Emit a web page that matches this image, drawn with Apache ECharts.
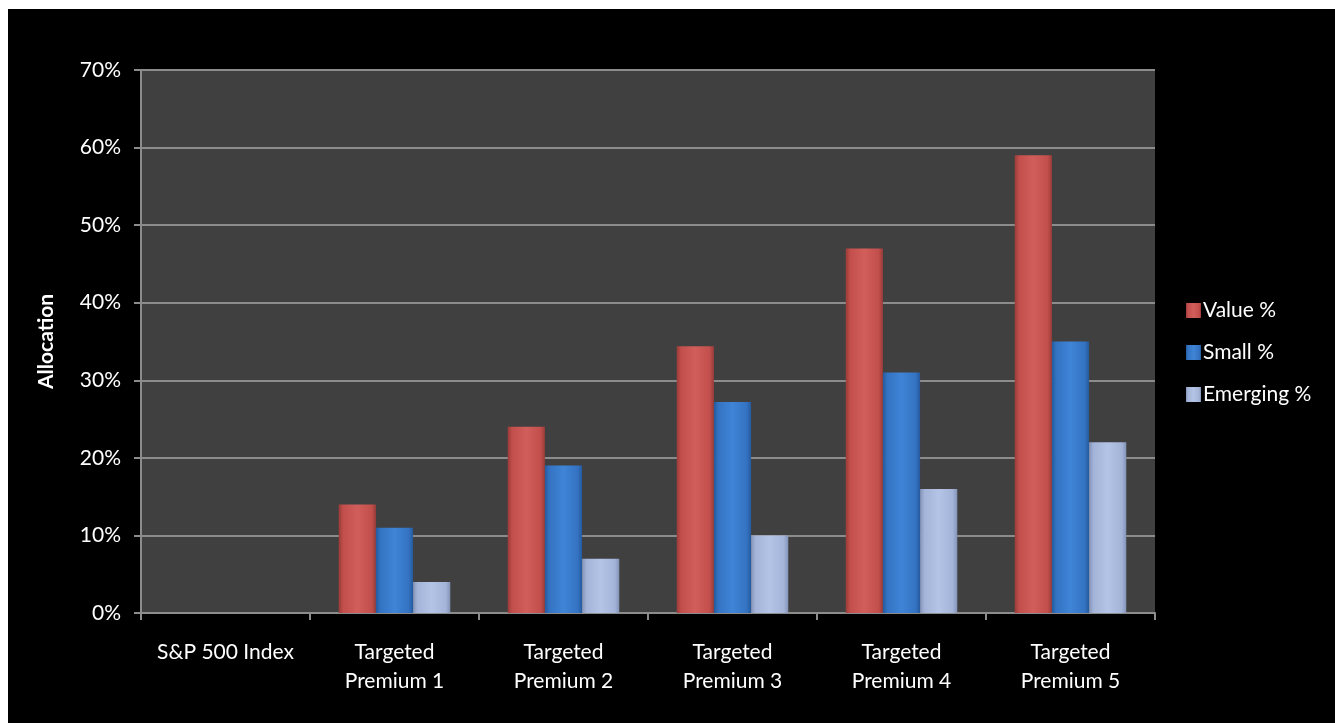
<!DOCTYPE html>
<html>
<head>
<meta charset="utf-8">
<script src="https://cdn.jsdelivr.net/npm/echarts@6/dist/echarts.min.js"></script>
<style>
html,body{margin:0;padding:0;background:#fff;}
#wrap{position:absolute;left:8px;top:9px;width:1327px;height:714px;background:#000;}
#c{position:absolute;left:-8px;top:-9px;width:1335px;height:723px;}
</style>
</head>
<body>
<div id="wrap"><div id="c"></div></div>
<script>
const categories = ['S&P 500 Index', 'Targeted\nPremium 1', 'Targeted\nPremium 2', 'Targeted\nPremium 3', 'Targeted\nPremium 4', 'Targeted\nPremium 5'];
const valuePct = [0, 14, 24, 34.4, 47, 59];
const smallPct = [0, 11, 19, 27.2, 31, 35];
const emergingPct = [0, 4, 7, 10, 16, 22];
const yTicks = [0, 10, 20, 30, 40, 50, 60, 70];

const FONT = 'Lato';
function grad(edge, mid, hi) {
  return new echarts.graphic.LinearGradient(0, 0, 1, 0, [
    {offset: 0, color: edge},
    {offset: 0.12, color: mid},
    {offset: 0.5, color: hi},
    {offset: 0.88, color: mid},
    {offset: 1, color: edge}
  ]);
}
const chart = echarts.init(document.getElementById('c'), null, {renderer: 'canvas'});
const option = {
  backgroundColor: 'transparent',
  animation: false,
  grid: {left: 141, right: 180, top: 70, bottom: 110, containLabel: false,
         show: true, backgroundColor: '#404040', borderWidth: 0},
  legend: {
    orient: 'vertical', left: 1181, top: 295, itemWidth: 15, itemHeight: 15, itemGap: 21,
    icon: 'rect',
    textStyle: {color: '#fff', fontFamily: FONT, fontSize: 21, padding: [0, 0, 0, -3]},
    data: ['Value %', 'Small %', 'Emerging %']
  },
  xAxis: {
    type: 'category', data: categories,
    axisLine: {lineStyle: {color: '#8c8c8c', width: 2}},
    axisTick: {show: true, length: 7, lineStyle: {color: '#8c8c8c', width: 2}},
    axisLabel: {color: '#fff', fontFamily: FONT, fontSize: 21, lineHeight: 29, margin: 25, interval: 0}
  },
  yAxis: {
    type: 'value', min: 0, max: 70, interval: 10,
    name: 'Allocation', nameLocation: 'middle', nameGap: 84, nameRotate: 90,
    nameTextStyle: {color: '#fff', fontFamily: FONT, fontSize: 21, fontWeight: 'bold'},
    axisLine: {show: true, lineStyle: {color: '#8c8c8c', width: 2}},
    axisTick: {show: true, length: 7, lineStyle: {color: '#8c8c8c', width: 2}},
    splitLine: {lineStyle: {color: '#8c8c8c', width: 2}},
    axisLabel: {color: '#fff', fontFamily: FONT, fontSize: 21, margin: 20,
      formatter: v => yTicks.includes(v) ? v + '%' : ''}
  },
  series: [
    {name: 'Value %', type: 'bar', data: valuePct, barGap: '0%', barCategoryGap: '34%',
     itemStyle: {color: grad('#9a3c39', '#c24f4c', '#d15e5b')}},
    {name: 'Small %', type: 'bar', data: smallPct,
     itemStyle: {color: grad('#255a9c', '#3473c2', '#3f84d6')}},
    {name: 'Emerging %', type: 'bar', data: emergingPct,
     itemStyle: {color: grad('#8494b8', '#a4b4d8', '#b4c4e6')}}
  ]
};
chart.setOption(option);
</script>
</body>
</html>
